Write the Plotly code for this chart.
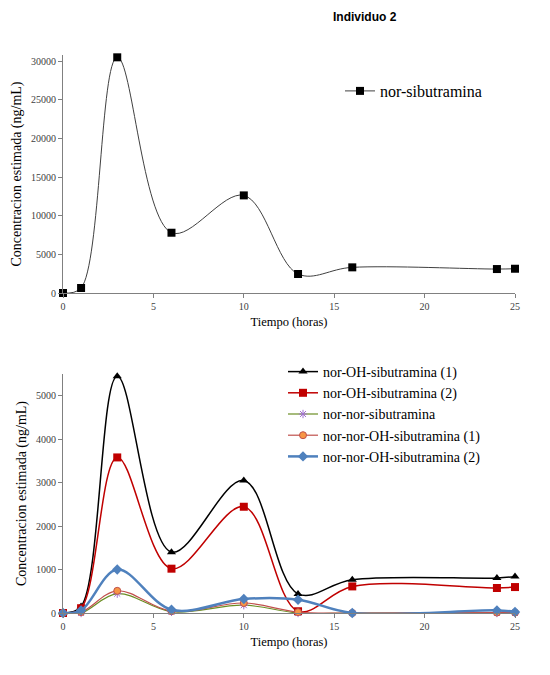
import plotly.graph_objects as go

tiempo = [0, 1, 3, 6, 10, 13, 16, 24, 25]

nor_sibutramina = [0, 650, 30500, 7800, 12630, 2460, 3320, 3100, 3140]

nor_oh_sib_1 = [0, 150, 5450, 1400, 3050, 440, 765, 805, 840]
nor_oh_sib_2 = [0, 110, 3580, 1020, 2445, 40, 612, 575, 597]
nor_nor_sib = [0, 0, 445, 30, 180, 0, 0, 0, 0]
nor_nor_oh_sib_1 = [0, 20, 510, 40, 230, 20, 0, 10, 10]
nor_nor_oh_sib_2 = [0, 60, 1000, 75, 322, 306, 0, 60, 25]

OFF = 8  # default page body margin
W, H = 550 - OFF, 675 - OFF
L = 63 - OFF
PW = 452
R = W - L - PW
SERIF = "Liberation Serif, Times New Roman, serif"

def py(px):
    return 1 - (px - OFF) / H

def pxx(px):
    return (px - OFF - L) / PW

fig = go.Figure()

fig.add_trace(go.Scatter(
    x=tiempo, y=nor_sibutramina, name="nor-sibutramina",
    mode="lines+markers", line=dict(color="#404040", width=1, shape="spline", smoothing=1.0),
    marker=dict(symbol="square", size=8, color="black"),
    xaxis="x", yaxis="y", legend="legend", cliponaxis=False))

series = [
    ("nor-OH-sibutramina (1)", nor_oh_sib_1, "black", 1.5, dict(symbol="triangle-up", size=8, color="black")),
    ("nor-OH-sibutramina (2)", nor_oh_sib_2, "#C00000", 1.5, dict(symbol="square", size=8, color="#C00000")),
    ("nor-nor-sibutramina", nor_nor_sib, "#6B8E23", 1.2, dict(symbol="asterisk-open", size=7, color="#A070D0", line=dict(color="#A070D0", width=1))),
    ("nor-nor-OH-sibutramina (1)", nor_nor_oh_sib_1, "#C0504D", 1.2, dict(symbol="circle", size=7, color="#F79646", line=dict(color="#C0504D", width=1))),
    ("nor-nor-OH-sibutramina (2)", nor_nor_oh_sib_2, "#4F81BD", 2.5, dict(symbol="diamond", size=8, color="#4F81BD")),
]
for name, vals, col, w, mk in series:
    fig.add_trace(go.Scatter(
        x=tiempo, y=vals, name=name, mode="lines+markers",
        line=dict(color=col, width=w, shape="spline", smoothing=1.0),
        marker=mk, xaxis="x2", yaxis="y2", legend="legend2", cliponaxis=False))

axis_common = dict(
    showgrid=False, zeroline=False, showline=True, linecolor="#808080", linewidth=1,
    ticks="outside", ticklen=4, tickcolor="#808080", automargin=False,
    tickfont=dict(family=SERIF, size=10, color="#404040"), tickformat="d",
)
xtitle_font = dict(family=SERIF, size=12.5, color="black")
ytitle_font = dict(family=SERIF, size=14, color="black")

fig.update_layout(
    width=W, height=H,
    margin=dict(l=L, r=R, t=0, b=0, autoexpand=False),
    paper_bgcolor="white", plot_bgcolor="white",
    font=dict(family=SERIF),
    xaxis=dict(axis_common, domain=[0, 1], range=[0, 25], tickvals=[0, 5, 10, 15, 20, 25],
               anchor="y", title=dict(text="Tiempo (horas)", font=xtitle_font, standoff=6)),
    yaxis=dict(axis_common, domain=[py(293), py(55)], range=[0, 30800],
               tickvals=[0, 5000, 10000, 15000, 20000, 25000, 30000], anchor="x",
               title=dict(text="Concentracion estimada (ng/mL)", font=ytitle_font, standoff=6)),
    xaxis2=dict(axis_common, domain=[0, 1], range=[0, 25], tickvals=[0, 5, 10, 15, 20, 25],
                anchor="y2", title=dict(text="Tiempo (horas)", font=xtitle_font, standoff=6)),
    yaxis2=dict(axis_common, domain=[py(613), py(374)], range=[0, 5500],
                tickvals=[0, 1000, 2000, 3000, 4000, 5000], anchor="x2",
                title=dict(text="Concentracion estimada (ng/mL)", font=ytitle_font, standoff=6)),
    legend=dict(x=pxx(340), y=py(74), xanchor="left", yanchor="top",
                font=dict(family=SERIF, size=16, color="black"), bgcolor="rgba(0,0,0,0)",
                itemwidth=30, tracegroupgap=0),
    legend2=dict(x=pxx(283), y=py(356), xanchor="left", yanchor="top",
                 font=dict(family=SERIF, size=14, color="black"), bgcolor="rgba(0,0,0,0)",
                 itemwidth=30, tracegroupgap=0),
    showlegend=True,
    annotations=[dict(text="<b>Individuo 2</b>", x=pxx(365), y=py(17), xref="paper", yref="paper",
                      xanchor="center", yanchor="middle", showarrow=False,
                      font=dict(family="Liberation Sans, Arial, sans-serif", size=12, color="black"))],
)

fig.write_html("out.html")
